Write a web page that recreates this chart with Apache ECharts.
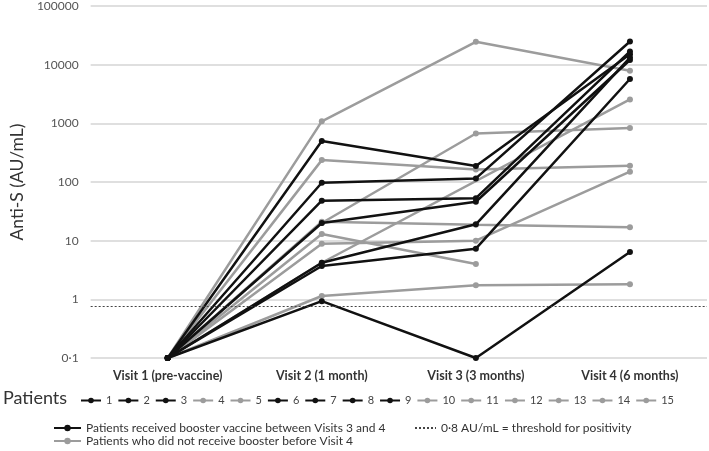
<!DOCTYPE html>
<html>
<head>
<meta charset="utf-8">
<script src="https://cdn.jsdelivr.net/npm/echarts@6/dist/echarts.min.js"></script>
<style>
html,body{margin:0;padding:0;background:#fff;}
#chart{width:709px;height:451px;}
</style>
</head>
<body>
<div id="chart"></div>
<script>
var categories = ['Visit 1 (pre-vaccine)', 'Visit 2 (1 month)', 'Visit 3 (3 months)', 'Visit 4 (6 months)'];
var yTickValues = [0.1, 1, 10, 100, 1000, 10000, 100000];
var yTickLabels = ['0·1', '1', '10', '100', '1000', '10000', '100000'];
var threshold = 0.75;

// booster group (black)
var patient1 = [0.1, 500, 187, 15100];
var patient2 = [0.1, 97, 115, 24800];
var patient3 = [0.1, 48, 53, 16800];
var patient6 = [0.1, 20, 46, 12000];
var patient7 = [0.1, 4.2, 19, 13200];
var patient8 = [0.1, 3.7, 7.3, 5700];
var patient9 = [0.1, 0.93, 0.1, 6.4];
// no booster group (grey)
var patient4 = [0.1, 1080, 24500, 7900];
var patient5 = [0.1, 236, 164, 190];
var patient10 = [0.1, 20, 670, 830];
var patient11 = [0.1, 21, 18.7, 17];
var patient12 = [0.1, 8.9, 10, 150];
var patient13 = [0.1, 13, 4.0, null];
var patient14 = [0.1, 4.2, null, 2560];
var patient15 = [0.1, 1.14, 1.73, 1.8];

var patientNames = ['1','2','3','4','5','6','7','8','9','10','11','12','13','14','15'];
var patientData = [patient1, patient2, patient3, patient4, patient5, patient6, patient7, patient8, patient9, patient10, patient11, patient12, patient13, patient14, patient15];
var patientBooster = [true, true, true, false, false, true, true, true, true, false, false, false, false, false, false];

var groupNames = ['Patients received booster vaccine between Visits 3 and 4', 'Patients who did not receive booster before Visit 4'];
var thresholdName = '0·8 AU/mL = threshold for positivity';

var BLACK = '#111111';
var GREY = '#9c9c9c';
var FONT = 'Lato';

var series = [];
// grey first so black is drawn on top
[false, true].forEach(function (grp) {
  patientData.forEach(function (d, i) {
    if (patientBooster[i] !== grp) return;
    var c = grp ? BLACK : GREY;
    series.push({
      name: patientNames[i],
      type: 'line',
      data: d,
      connectNulls: true,
      symbol: 'circle',
      symbolSize: 6,
      lineStyle: { color: c, width: 2.5 },
      itemStyle: { color: c },
      z: grp ? 4 : 3,
      animation: false
    });
  });
});
series.push({
  name: groupNames[0], type: 'line', data: [null, null, null, null],
  symbol: 'circle', symbolSize: 7,
  lineStyle: { color: BLACK, width: 3 }, itemStyle: { color: BLACK }, animation: false
});
series.push({
  name: groupNames[1], type: 'line', data: [null, null, null, null],
  symbol: 'circle', symbolSize: 7,
  lineStyle: { color: GREY, width: 3 }, itemStyle: { color: GREY }, animation: false
});
series.push({
  name: thresholdName, type: 'line', data: [null, null, null, null],
  symbol: 'none',
  lineStyle: { color: '#444', width: 1, type: [2, 2] }, itemStyle: { color: '#444' }, animation: false,
  markLine: {
    silent: true, symbol: ['none', 'none'], label: { show: false },
    lineStyle: { color: '#444', width: 1, type: [2, 2] },
    data: [{ yAxis: threshold }],
    animation: false
  }
});

var chart = echarts.init(document.getElementById('chart'));
chart.setOption({
  animation: false,
  backgroundColor: '#fff',
  grid: { left: 90, right: 2, top: 5, bottom: 93 },
  xAxis: {
    type: 'category',
    data: categories,
    boundaryGap: true,
    axisLine: { show: false },
    axisTick: { show: false },
    axisLabel: { fontFamily: FONT, fontWeight: 'bold', fontSize: 12.5, color: '#333', margin: 11 }
  },
  yAxis: {
    type: 'log',
    logBase: 10,
    min: 0.1,
    max: 100000,
    name: 'Anti-S (AU/mL)',
    nameLocation: 'middle',
    nameGap: 64,
    nameTextStyle: { fontFamily: FONT, fontSize: 17.5, color: '#333' },
    axisLine: { show: false },
    axisTick: { show: false },
    splitLine: { lineStyle: { color: '#d4d4d4', width: 1.5 } },
    axisLabel: {
      fontFamily: FONT, fontSize: 12, color: '#555', margin: 12,
      formatter: function (v) {
        for (var k = 0; k < yTickValues.length; k++) {
          if (Math.abs(Math.log10(v) - Math.log10(yTickValues[k])) < 1e-6) return yTickLabels[k];
        }
        return '';
      }
    }
  },
  legend: [
    {
      data: patientNames,
      left: 75, top: 390, width: 630,
      itemWidth: 20, itemHeight: 7, itemGap: 5,
      textStyle: { fontFamily: FONT, fontSize: 11, color: '#444' },
      selectedMode: false
    },
    {
      data: groupNames,
      orient: 'vertical',
      left: 48, top: 417, height: 34,
      itemWidth: 27, itemHeight: 8, itemGap: 1,
      textStyle: { fontFamily: FONT, fontSize: 12, color: '#333' },
      selectedMode: false
    },
    {
      data: [{ name: thresholdName, itemStyle: { opacity: 0 } }],
      left: 409, top: 417,
      itemWidth: 21, itemHeight: 8,
      textStyle: { fontFamily: FONT, fontSize: 12, color: '#333' },
      selectedMode: false
    }
  ],
  graphic: [
    { type: 'text', left: 3, top: 389, style: { text: 'Patients', fontFamily: FONT, fontSize: 18, fill: '#333' } }
  ],
  series: series
});
</script>
</body>
</html>
